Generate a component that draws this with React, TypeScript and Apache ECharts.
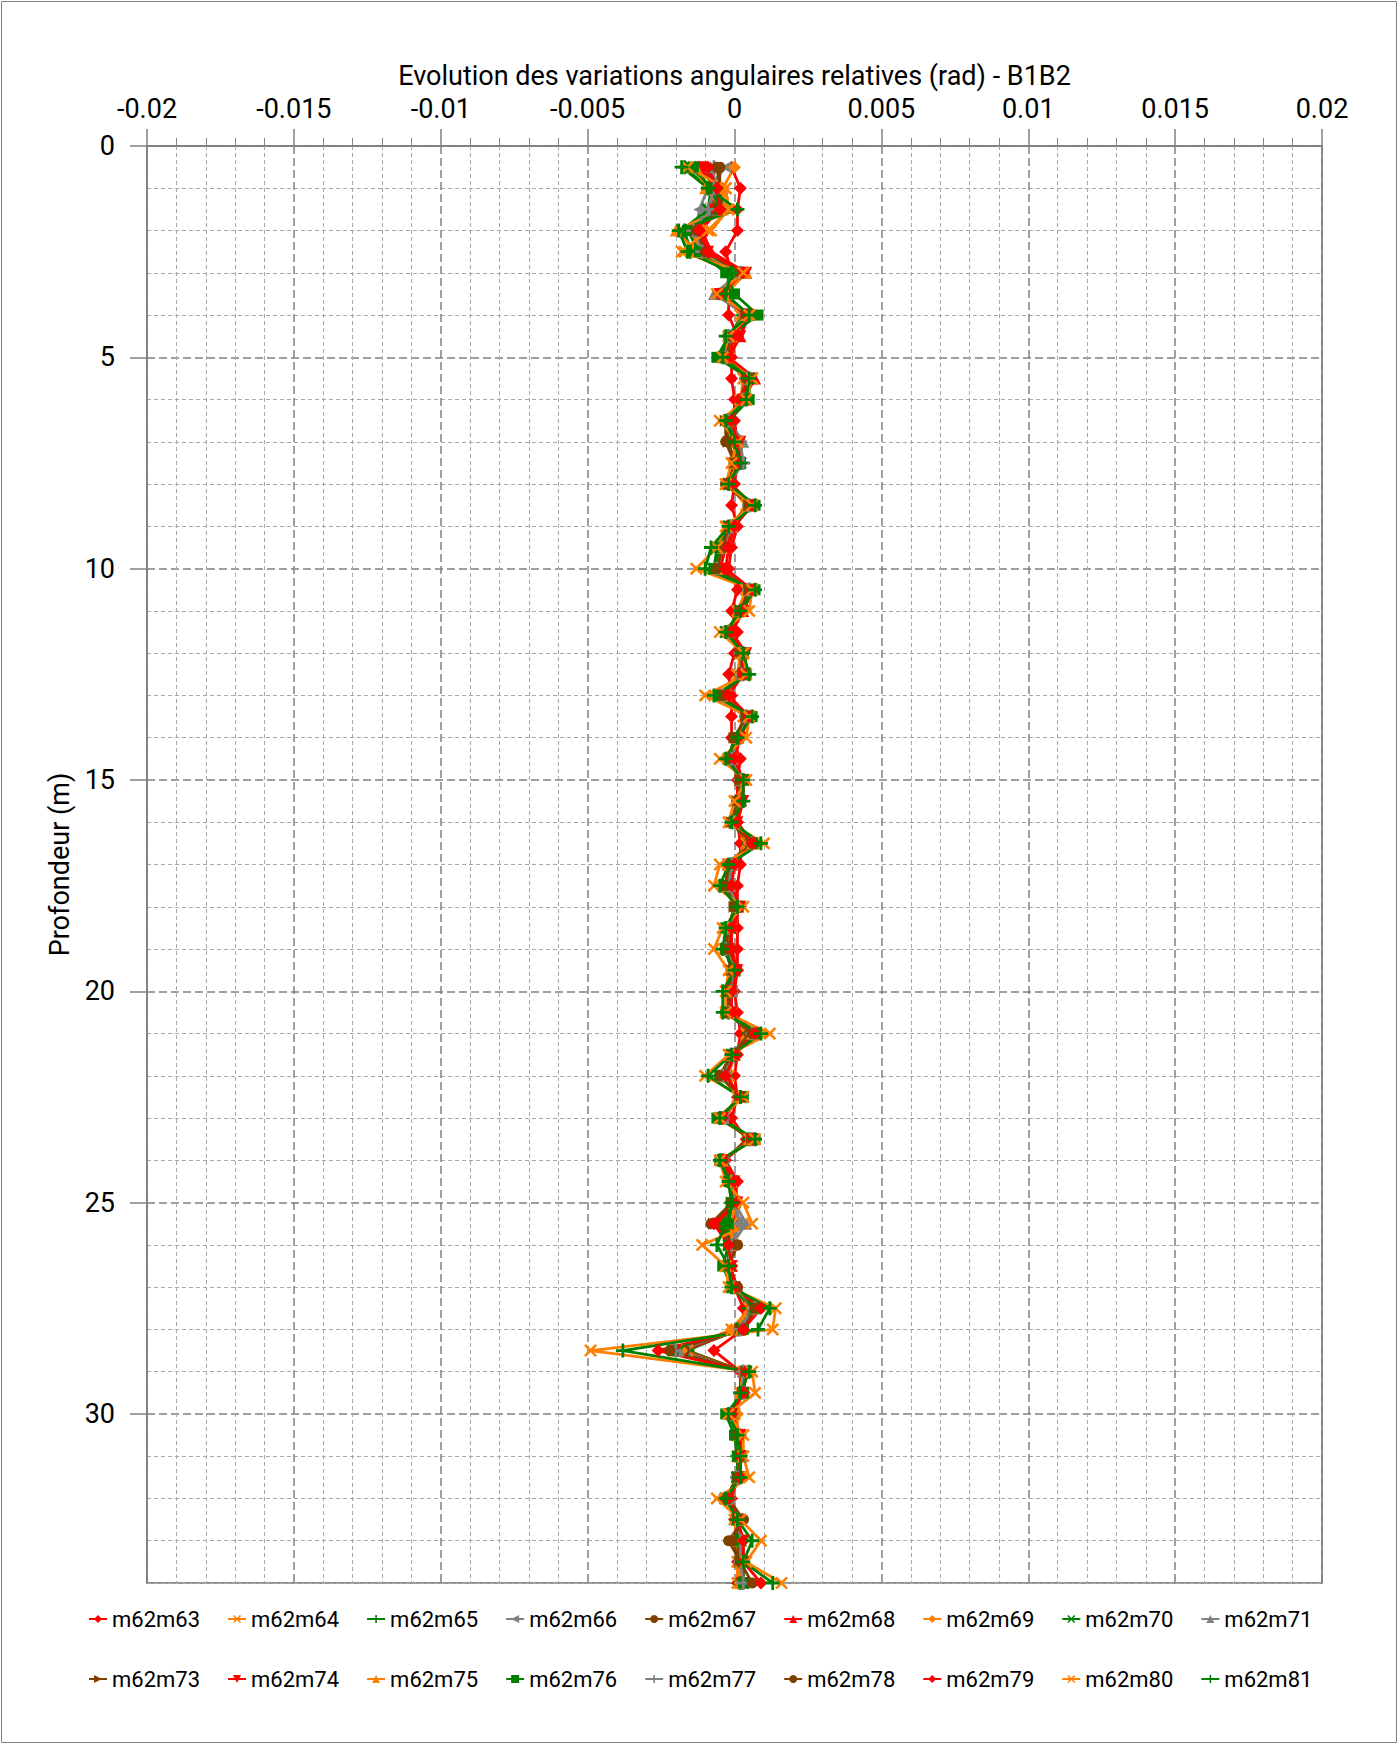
import React, { useEffect, useRef } from "react";
import * as echarts from "echarts";

// Depth (m) of each measurement point
const depths = [
  0.5, 1, 1.5, 2, 2.5, 3, 3.5, 4, 4.5, 5, 5.5, 6, 6.5, 7, 7.5, 8, 8.5, 9, 9.5, 10,
  10.5, 11, 11.5, 12, 12.5, 13, 13.5, 14, 14.5, 15, 15.5, 16, 16.5, 17, 17.5, 18, 18.5, 19, 19.5, 20,
  20.5, 21, 21.5, 22, 22.5, 23, 23.5, 24, 24.5, 25, 25.5, 26, 26.5, 27, 27.5, 28, 28.5, 29, 29.5, 30,
  30.5, 31, 31.5, 32, 32.5, 33, 33.5, 34,
];

// Relative angular variations (rad) per series, one value per depth
const m62m63 = [-0.0001,0.0002,0.0001,0.0001,-0.0003,-0.0001,-0.0002,-0.0002,0.0001,-0.0001,
-0.0001,0,0,0.0001,0.0001,0,-0.0001,0.0001,-0.0001,-0.0002,
0.0001,-0.0001,0.0001,0,-0.0002,-0.0001,-0.0001,-0.0001,0.0002,0.0001,
0.0001,0.0001,0.0002,0.0002,0.0001,0.0001,0.0001,0.0001,0.0001,0,
0.0001,0.0002,0.0001,0,0.0001,-0.0001,0.0004,-0.0003,0.0001,0,
0,-0.0001,-0.0001,0,0.0003,0.0003,-0.0007,0.0002,0.0002,0,
0.0001,0.0001,0.0001,-0.0001,0,0.0001,0.0001,0.0001];
const m62m64 = [-0.0014,-0.0003,-0.0002,-0.0008,-0.0017,0,-0.0003,0.0002,-0.0001,-0.0002,
0.0003,0.0002,-0.0002,0,0,-0.0002,0.0004,-0.0001,-0.0003,-0.0005,
0.0004,0.0001,-0.0002,0.0002,0.0001,-0.0003,0.0003,0.0001,-0.0001,0.0002,
0.0002,0,0.0004,-0.0001,-0.0002,0.0001,-0.0001,-0.0002,0,-0.0001,
-0.0001,0.0004,0,-0.0002,0.0001,-0.0004,0.0005,-0.0004,-0.0001,0,
-0.0001,-0.0001,-0.0001,0,0.0005,-0.0001,-0.0016,0.0003,0.0002,0,
0.0001,0.0001,0.0001,-0.0002,0,0.0001,0.0001,0.0001];
const m62m65 = [-0.0017,-0.0009,-0.0007,-0.0017,-0.0015,-0.0001,-0.0004,0.0003,-0.0002,-0.0003,
0.0004,0.0003,-0.0002,0,0.0001,-0.0002,0.0005,-0.0001,-0.0004,-0.0006,
0.0005,0.0002,-0.0002,0.0002,0.0002,-0.0003,0.0004,0.0001,-0.0001,0.0002,
0.0002,0,0.0005,-0.0001,-0.0002,0.0001,-0.0002,-0.0002,0,-0.0001,
-0.0002,0.0005,0,-0.0003,0.0002,-0.0004,0.0005,-0.0004,-0.0001,0,
-0.0002,-0.0002,-0.0002,0,0.0005,0.0001,-0.0016,0.0003,0.0002,-0.0001,
0.0001,0.0001,0.0001,-0.0002,0.0001,0.0001,0.0002,0.0002];
const m62m66 = [-0.0003,-0.0009,-0.0012,-0.0013,-0.001,0.0001,-0.0005,0.0003,-0.0001,-0.0003,
0.0004,0.0003,-0.0002,0.0001,0.0001,-0.0002,0.0005,-0.0001,-0.0004,-0.0006,
0.0005,0.0002,-0.0002,0.0002,0.0002,-0.0003,0.0004,0.0001,-0.0001,0.0002,
0.0002,0,0.0005,-0.0001,-0.0002,0.0001,-0.0002,-0.0002,0,-0.0001,
-0.0002,0.0005,-0.0001,-0.0003,0.0002,-0.0004,0.0006,-0.0004,-0.0001,0,
0.0001,-0.0001,-0.0002,0,0.0006,0.0001,-0.0017,0.0003,0.0003,-0.0001,
0.0001,0.0002,0.0001,-0.0002,0.0001,0.0002,0.0002,0.0002];
const m62m67 = [-0.0005,-0.0005,-0.0005,-0.0012,-0.0011,0.0002,-0.0004,0.0004,-0.0001,-0.0003,
0.0004,0.0002,-0.0003,-0.0003,0,-0.0003,0.0005,-0.0002,-0.0004,-0.0006,
0.0005,0.0002,-0.0002,0.0002,0.0002,-0.0004,0.0004,0,-0.0002,0.0002,
0.0001,-0.0001,0.0005,-0.0002,-0.0003,0,-0.0002,-0.0003,-0.0001,-0.0002,
-0.0002,0.0005,-0.0001,-0.0004,0.0002,-0.0005,0.0006,-0.0004,-0.0001,-0.0001,
-0.0006,0.0001,-0.0002,0.0001,0.0006,0.0002,-0.0017,0.0003,0.0003,-0.0001,
0.0001,0.0002,0.0001,-0.0002,0.0003,-0.0002,0.0002,0.0002];
const m62m68 = [-0.0012,-0.0006,-0.0006,-0.0011,-0.0008,0.0004,-0.0005,0.0004,0.0002,-0.0002,
0.0007,0.0003,-0.0002,0.0001,0.0001,-0.0002,0.0006,-0.0001,-0.0003,-0.0005,
0.0006,0.0003,-0.0001,0.0003,0.0003,-0.0003,0.0005,0.0001,-0.0001,0.0003,
0.0002,0,0.0006,-0.0001,-0.0002,0.0001,-0.0001,-0.0002,0,-0.0001,
-0.0001,0.0006,0,-0.0003,0.0002,-0.0004,0.0006,-0.0004,-0.0001,0,
-0.0002,-0.0002,-0.0001,0,0.0006,0.0002,-0.0018,0.0004,0.0003,-0.0001,
0.0001,0.0002,0.0001,-0.0002,0.0001,0.0002,0.0002,0.0002];
const m62m69 = [0,-0.0004,-0.0003,-0.0015,-0.0012,0.0002,-0.0003,0.0004,-0.0001,-0.0003,
0.0004,0.0003,-0.0002,0.0001,0.0001,-0.0002,0.0005,-0.0001,-0.0004,-0.0006,
0.0005,0.0002,-0.0002,0.0002,0.0002,-0.0004,0.0004,0.0001,-0.0001,0.0002,
0.0002,0,0.0005,-0.0001,-0.0002,0.0001,-0.0002,-0.0002,0,-0.0001,
-0.0002,0.0006,-0.0001,-0.0004,0.0002,-0.0004,0.0006,-0.0004,-0.0001,0,
-0.0001,-0.0001,-0.0002,0,0.0006,-0.0001,-0.0018,0.0003,0.0002,0.0001,
0.0001,0.0001,0.0001,-0.0003,0.0001,0.0002,0.0002,0.0002];
const m62m70 = [-0.0015,-0.0008,-0.0009,-0.0018,-0.0014,0.0001,-0.0004,0.0005,-0.0002,-0.0004,
0.0005,0.0004,-0.0002,0,0.0002,-0.0002,0.0006,-0.0002,-0.0006,-0.0007,
0.0006,0.0002,-0.0003,0.0003,0.0003,-0.0005,0.0005,0.0001,-0.0002,0.0003,
0.0002,0,0.0006,-0.0002,-0.0003,0.0001,-0.0002,-0.0003,0,-0.0002,
-0.0002,0.0006,-0.0001,-0.0005,0.0002,-0.0005,0.0006,-0.0004,-0.0001,0,
-0.0003,-0.0002,-0.0002,-0.0001,0.0007,0.0002,-0.0019,0.0004,0.0003,-0.0001,
0.0001,0.0002,0.0001,-0.0003,0.0001,0.0002,0.0002,0.0003];
const m62m71 = [-0.0008,-0.0007,-0.0008,-0.0013,-0.0011,0.0002,-0.0007,0.0004,-0.0001,-0.0003,
0.0004,0.0003,-0.0002,0.0003,0.0001,-0.0002,0.0005,-0.0001,-0.0004,-0.0006,
0.0005,0.0002,-0.0002,0.0002,0.0002,-0.0004,0.0004,0.0001,-0.0001,0.0002,
0.0002,0,0.0006,-0.0001,-0.0002,0.0001,-0.0002,-0.0003,0,-0.0001,
-0.0002,0.0006,-0.0001,-0.0004,0.0002,-0.0004,0.0006,-0.0004,-0.0001,0,
0.0004,-0.0001,-0.0002,0,0.0006,0.0002,-0.0019,0.0003,0.0003,-0.0001,
0.0001,0.0002,0.0001,-0.0002,0.0001,0.0002,0.0002,0.0002];
const m62m73 = [-0.001,-0.0006,-0.0006,-0.0012,-0.001,0.0003,-0.0004,0.0004,-0.0001,-0.0003,
0.0005,0.0003,-0.0003,-0.0002,0,-0.0002,0.0005,-0.0002,-0.0004,-0.0006,
0.0005,0.0002,-0.0002,0.0002,0.0003,-0.0004,0.0004,0,-0.0002,0.0002,
0.0001,-0.0001,0.0006,-0.0002,-0.0003,0,-0.0002,-0.0003,-0.0001,-0.0002,
-0.0002,0.0006,-0.0001,-0.0004,0.0002,-0.0005,0.0006,-0.0004,-0.0001,-0.0001,
-0.0007,0,-0.0002,0.0001,0.0007,0.0002,-0.002,0.0004,0.0003,-0.0001,
0.0001,0.0002,0.0001,-0.0003,0.0002,0.0001,0.0002,0.0003];
const m62m74 = [-0.0011,-0.0007,-0.0007,-0.0012,-0.0009,0.0004,-0.0005,0.0005,0.0002,-0.0002,
0.0006,0.0003,-0.0002,0.0002,0.0002,-0.0002,0.0006,-0.0001,-0.0003,-0.0005,
0.0006,0.0003,-0.0001,0.0004,0.0003,-0.0004,0.0005,0.0002,-0.0001,0.0003,
0.0003,0.0001,0.0006,-0.0001,-0.0002,0.0002,-0.0001,-0.0002,0.0001,-0.0001,
-0.0001,0.0007,0,-0.0004,0.0002,-0.0004,0.0006,-0.0004,0,0.0001,
-0.0006,-0.0002,-0.0001,0,0.0007,0.0003,-0.002,0.0004,0.0003,-0.0001,
0.0002,0.0002,0.0002,-0.0002,0.0001,0.0003,0.0003,0.0003];
const m62m75 = [-0.0013,-0.001,-0.0004,-0.002,-0.0013,0.0004,-0.0003,0.0004,-0.0001,-0.0003,
0.0004,0.0003,-0.0002,0.0001,0.0001,-0.0003,0.0006,-0.0001,-0.0004,-0.0006,
0.0006,0.0002,-0.0002,0.0002,0.0003,-0.0004,0.0005,0.0001,-0.0002,0.0003,
0.0002,0,0.0006,-0.0002,-0.0003,0.0001,-0.0002,-0.0003,0,-0.0002,
-0.0002,0.0006,-0.0001,-0.0005,0.0002,-0.0005,0.0006,-0.0004,-0.0001,0,
-0.0001,-0.0001,-0.0002,0,0.0007,0.0002,-0.0021,0.0004,0.0002,-0.0001,
0.0001,0.0001,0.0001,-0.0003,0.0001,0.0002,0.0002,0.0002];
const m62m76 = [-0.0014,-0.0008,-0.0005,-0.0016,-0.0012,-0.0003,0,0.0008,-0.0002,-0.0006,
0.0005,0.0005,-0.0002,0,0.0002,-0.0002,0.0007,-0.0002,-0.0005,-0.0007,
0.0007,0.0002,-0.0002,0.0003,0.0004,-0.0005,0.0006,0.0001,-0.0002,0.0003,
0.0002,0,0.0007,-0.0002,-0.0003,0.0001,-0.0003,-0.0003,0,-0.0002,
-0.0003,0.0007,-0.0001,-0.0005,0.0003,-0.0006,0.0007,-0.0005,-0.0002,-0.0001,
-0.0002,-0.0002,-0.0004,-0.0001,0.0007,0.0003,-0.0021,0.0004,0.0003,-0.0003,
0,0.0001,0.0001,-0.0003,0.0001,0.0002,0.0003,0.0003];
const m62m77 = [-0.0007,-0.0007,-0.0009,-0.0014,-0.0011,0.0002,-0.0004,0.0004,-0.0002,-0.0003,
0.0004,0.0003,-0.0002,0.0002,0.0003,-0.0002,0.0005,-0.0001,-0.0004,-0.0006,
0.0005,0.0002,-0.0002,0.0002,0.0003,-0.0004,0.0004,0.0002,-0.0001,0.0002,
0.0002,0,0.0006,-0.0001,-0.0002,0.0001,-0.0002,-0.0003,0,-0.0001,
-0.0002,0.0006,-0.0001,-0.0004,0.0002,-0.0004,0.0006,-0.0004,-0.0001,0,
0.0002,-0.0001,-0.0002,0,0.0007,0.0002,-0.002,0.0003,0.0003,-0.0001,
0.0001,0.0002,0.0001,-0.0002,0.0001,0.0002,0.0002,0.0003];
const m62m78 = [-0.0006,-0.0005,-0.0004,-0.0013,-0.001,0.0002,-0.0004,0.0004,-0.0001,-0.0003,
0.0004,0.0003,-0.0003,-0.0002,0,-0.0003,0.0005,-0.0002,-0.0004,-0.0006,
0.0005,0.0002,-0.0002,0.0002,0.0003,-0.0004,0.0004,0,-0.0002,0.0002,
0.0001,-0.0001,0.0006,-0.0002,-0.0003,0,-0.0002,-0.0003,-0.0001,-0.0002,
-0.0002,0.0006,-0.0001,-0.0005,0.0002,-0.0005,0.0006,-0.0004,-0.0001,-0.0001,
-0.0008,0.0001,-0.0002,0.0001,0.0007,0.0003,-0.0022,0.0004,0.0003,-0.0001,
0.0001,0.0002,0.0001,-0.0003,0.0003,-0.0001,0.0002,0.0006];
const m62m79 = [-0.0009,-0.0006,-0.0005,-0.0012,-0.0009,0.0003,-0.0005,0.0004,0,-0.0002,
0.0005,0.0002,-0.0001,0.0001,0.0001,-0.0001,0.0006,0,-0.0002,-0.0003,
0.0006,0.0003,-0.0001,0.0003,0.0003,-0.0002,0.0005,0.0002,0,0.0003,
0.0002,0.0001,0.0006,0,-0.0001,0.0002,-0.0001,-0.0001,0.0001,-0.0001,
-0.0001,0.0007,0,-0.0003,0.0002,-0.0004,0.0006,-0.0004,0,0.0001,
-0.0007,-0.0002,-0.0001,0,0.0009,0.0003,-0.0026,0.0004,0.0003,-0.0001,
0.0002,0.0002,0.0002,-0.0002,0.0001,0.0003,0.0003,0.0009];
const m62m80 = [-0.0016,-0.0003,-0.0002,-0.0009,-0.0018,0.0003,-0.0006,0.0005,-0.0002,-0.0004,
0.0006,0.0004,-0.0005,0.0001,-0.0001,-0.0003,0.0006,-0.0003,-0.0006,-0.0013,
0.0006,0.0005,-0.0005,0.0003,0.0004,-0.001,0.0005,0.0004,-0.0005,0.0004,
0,-0.0002,0.001,-0.0005,-0.0007,0.0003,-0.0004,-0.0007,-0.0002,-0.0003,
-0.0003,0.0012,-0.0002,-0.001,0.0003,-0.0005,0.0007,-0.0005,-0.0003,0.0003,
0.0006,-0.0011,-0.0003,-0.0002,0.0014,0.0013,-0.0049,0.0006,0.0007,-0.0002,
0.0003,0.0003,0.0005,-0.0006,0.0002,0.0009,0.0004,0.0016];
const m62m81 = [-0.0018,-0.0009,0.0001,-0.0019,-0.0016,-0.0001,-0.0003,0.0005,-0.0003,-0.0004,
0.0005,0.0004,-0.0003,0,0.0002,-0.0002,0.0007,-0.0002,-0.0008,-0.001,
0.0007,0.0002,-0.0003,0.0003,0.0005,-0.0007,0.0006,0.0001,-0.0003,0.0003,
0.0003,-0.0001,0.0009,-0.0002,-0.0005,0.0001,-0.0003,-0.0004,0,-0.0004,
-0.0004,0.0009,-0.0001,-0.0009,0.0002,-0.0005,0.0007,-0.0005,-0.0002,-0.0001,
-0.0003,-0.0006,-0.0002,-0.0001,0.0012,0.0008,-0.0038,0.0005,0.0002,-0.0002,
0.0001,0.0002,0.0002,-0.0003,0.0001,0.0006,0.0003,0.0013];

const seriesNames = [
  "m62m63", "m62m64", "m62m65", "m62m66", "m62m67", "m62m68", "m62m69", "m62m70", "m62m71",
  "m62m73", "m62m74", "m62m75", "m62m76", "m62m77", "m62m78", "m62m79", "m62m80", "m62m81",
];
const seriesValues = [
  m62m63, m62m64, m62m65, m62m66, m62m67, m62m68, m62m69, m62m70, m62m71,
  m62m73, m62m74, m62m75, m62m76, m62m77, m62m78, m62m79, m62m80, m62m81,
];

const xTitle = "Evolution des variations angulaires relatives (rad) - B1B2";
const yTitle = "Profondeur (m)";
const yLabelValues = [0, 5, 10, 15, 20, 25, 30];

const RED = "#FF0000";
const ORANGE = "#FF8000";
const GREEN = "#008000";
const GREY = "#808080";
const BROWN = "#804000";
const PLUS = "path://M4,0H6V4H10V6H6V10H4V6H0V4H4Z";
const CROSS = "path://M0,1.4L1.4,0L5,3.6L8.6,0L10,1.4L6.4,5L10,8.6L8.6,10L5,6.4L1.4,10L0,8.6L3.6,5Z";

const markers = [
  { color: RED, symbol: "diamond", size: 13, rotate: 0 },
  { color: ORANGE, symbol: CROSS, size: 13, rotate: 0 },
  { color: GREEN, symbol: PLUS, size: 14, rotate: 0 },
  { color: GREY, symbol: "triangle", size: 12, rotate: 90 },
  { color: BROWN, symbol: "circle", size: 11, rotate: 0 },
  { color: RED, symbol: "triangle", size: 12, rotate: 0 },
  { color: ORANGE, symbol: "diamond", size: 13, rotate: 0 },
  { color: GREEN, symbol: CROSS, size: 13, rotate: 0 },
  { color: GREY, symbol: "triangle", size: 12, rotate: 0 },
  { color: BROWN, symbol: "triangle", size: 12, rotate: -90 },
  { color: RED, symbol: "triangle", size: 12, rotate: 180 },
  { color: ORANGE, symbol: "triangle", size: 12, rotate: 0 },
  { color: GREEN, symbol: "rect", size: 11, rotate: 0 },
  { color: GREY, symbol: PLUS, size: 14, rotate: 0 },
  { color: BROWN, symbol: "circle", size: 11, rotate: 0 },
  { color: RED, symbol: "diamond", size: 13, rotate: 0 },
  { color: ORANGE, symbol: CROSS, size: 13, rotate: 0 },
  { color: GREEN, symbol: PLUS, size: 14, rotate: 0 },
];

export default function App() {
  const ref = useRef<HTMLDivElement>(null);
  useEffect(() => {
    if (!ref.current) return;
    const chart = echarts.init(ref.current, null, { renderer: "svg" });
    const font = "Roboto";
    const axisColor = "#808080";
    const series = seriesNames.map((name, k) => {
      const m = markers[k];
      return {
        type: "line",
        name,
        xAxisIndex: 0,
        yAxisIndex: 0,
        data: depths.map((d, i) => [seriesValues[k][i], d]),
        symbol: m.symbol,
        symbolSize: m.size,
        symbolRotate: m.rotate,
        symbolKeepAspect: true,
        showSymbol: true,
        showAllSymbol: true,
        lineStyle: { color: m.color, width: 2.8 },
        itemStyle: { color: m.color },
        emphasis: { disabled: true },
      };
    });
    const legendCommon = {
      left: 88,
      orient: "horizontal",
      itemWidth: 18,
      itemHeight: 10,
      itemGap: 27,
      padding: 0,
      selectedMode: false,
      textStyle: { fontFamily: font, fontSize: 22, color: "#000" },
    };
    chart.setOption({
      animation: false,
      backgroundColor: "#fff",
      textStyle: { fontFamily: font },
      grid: {
        left: 147,
        right: 77,
        top: 146,
        bottom: 162,
        show: true,
        borderColor: "#707070",
        borderWidth: 1.5,
        backgroundColor: "transparent",
        containLabel: false,
        outerBoundsMode: "none",
      },
      legend: [
        { ...legendCommon, top: 1608, data: seriesNames.slice(0, 9) },
        { ...legendCommon, top: 1668, data: seriesNames.slice(9) },
      ],
      xAxis: {
        type: "value",
        position: "top",
        min: -0.02,
        max: 0.02,
        interval: 0.005,
        name: xTitle,
        nameLocation: "middle",
        nameGap: 57,
        nameTextStyle: { fontFamily: font, fontSize: 27, color: "#000" },
        axisLine: { show: true, onZero: false, lineStyle: { color: axisColor, width: 1.5 } },
        axisTick: { show: true, inside: false, length: 17, lineStyle: { color: axisColor, width: 1.5 } },
        minorTick: { show: true, splitNumber: 5, length: 8, lineStyle: { color: axisColor, width: 1 } },
        axisLabel: { fontFamily: font, fontSize: 27, color: "#000", margin: 24 },
        splitLine: { show: true, lineStyle: { color: "#808080", width: 1.5, type: [8, 4] } },
        minorSplitLine: { show: true, lineStyle: { color: "#a8a8a8", width: 1, type: [4, 3] } },
      },
      yAxis: [
        {
          type: "value",
          inverse: true,
          min: 0,
          max: 34,
          interval: 5,
          position: "left",
          name: yTitle,
          nameLocation: "middle",
          nameGap: 52,
          nameRotate: 90,
          nameTextStyle: { fontFamily: font, fontSize: 27, color: "#000" },
          axisLine: { show: true, onZero: false, lineStyle: { color: axisColor, width: 1.5 } },
          axisTick: { show: true, length: 17, lineStyle: { color: axisColor, width: 1.5 }, customValues: yLabelValues },
          axisLabel: { fontFamily: font, fontSize: 27, color: "#000", margin: 32, customValues: yLabelValues },
          splitLine: { show: true, lineStyle: { color: "#808080", width: 1.5, type: [8, 4] } },
        },
        {
          type: "value",
          inverse: true,
          min: 0,
          max: 34,
          interval: 1,
          position: "left",
          axisLine: { show: false },
          axisLabel: { show: false },
          axisTick: { show: true, length: 8, lineStyle: { color: axisColor, width: 1 } },
          splitLine: {
            show: true,
            lineStyle: { color: ["transparent", "#a8a8a8", "#a8a8a8", "#a8a8a8", "#a8a8a8"], width: 1, type: [4, 3] },
          },
        },
      ],
      graphic: [
        {
          type: "rect",
          silent: true,
          z: -10,
          shape: { x: 1.5, y: 1.5, width: 1395, height: 1741 },
          style: { fill: "none", stroke: "#808080", lineWidth: 1 },
        },
      ],
      series,
    });
    return () => chart.dispose();
  }, []);
  return <div ref={ref} style={{ position: "absolute", left: 0, top: 0, width: 1399, height: 1745 }} />;
}
